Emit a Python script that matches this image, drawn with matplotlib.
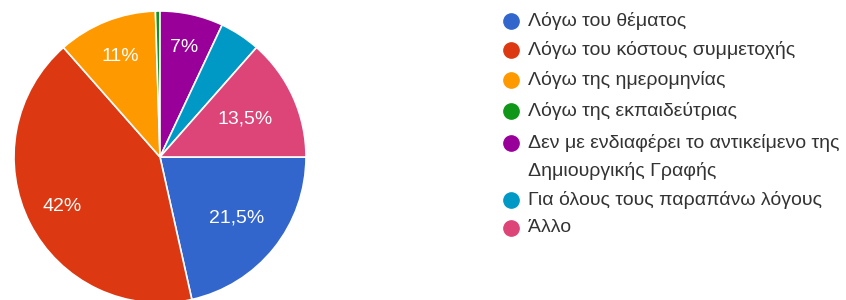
import numpy as np
import matplotlib.pyplot as plt

plt.rcParams['font.family'] = ['Liberation Sans', 'DejaVu Sans']

# data
reasons = ['Λόγω του θέματος',
           'Λόγω του κόστους συμμετοχής',
           'Λόγω της ημερομηνίας',
           'Λόγω της εκπαιδεύτριας',
           'Δεν με ενδιαφέρει το αντικείμενο της\nΔημιουργικής Γραφής',
           'Για όλους τους παραπάνω λόγους',
           'Άλλο']
percent = [21.5, 42, 11, 0.5, 7, 4.5, 13.5]
colors = ['#3366cc', '#dc3912', '#ff9900', '#109618', '#990099', '#0099c6', '#dd4477']

# how far out each label sits (google style), None = no label
label_r = [0.67, 0.75, 0.74, None, 0.77, None, 0.64]

W, H = 846, 300
fig = plt.figure(figsize=(W / 100, H / 100), dpi=100)
fig.patch.set_facecolor('white')

cx, cy, R = 160, 157, 146
ax = fig.add_axes([(cx - R) / W, (H - cy - R) / H, 2 * R / W, 2 * R / H])
wedges, _ = ax.pie(percent, colors=colors, startangle=0, counterclock=False,
                   wedgeprops=dict(edgecolor='white', linewidth=1.2))
ax.set_xlim(-1, 1)
ax.set_ylim(-1, 1)
ax.set_aspect('equal')
ax.axis('off')

for w, p, r in zip(wedges, percent, label_r):
    if r is None:
        continue
    mid = np.deg2rad((w.theta1 + w.theta2) / 2)
    txt = (f'{p:g}%').replace('.', ',')
    ax.text(r * np.cos(mid), r * np.sin(mid), txt, color='white',
            fontsize=14, ha='center', va='center')

# legend drawn by hand (rows in pixels from top)
row_y = [21, 50, 80, 111, 143, 200, 228]
wrap_gap = 28
for y, lab, c in zip(row_y, reasons, colors):
    fig.lines.append(plt.Line2D([511 / W], [1 - y / H], marker='o', markersize=11,
                                color=c, transform=fig.transFigure))
    for k, line in enumerate(lab.split('\n')):
        fig.text(528 / W, 1 - (y + k * wrap_gap) / H, line, fontsize=14,
                 color='#333333', ha='left', va='center')

fig.savefig('out.png', dpi=100)
